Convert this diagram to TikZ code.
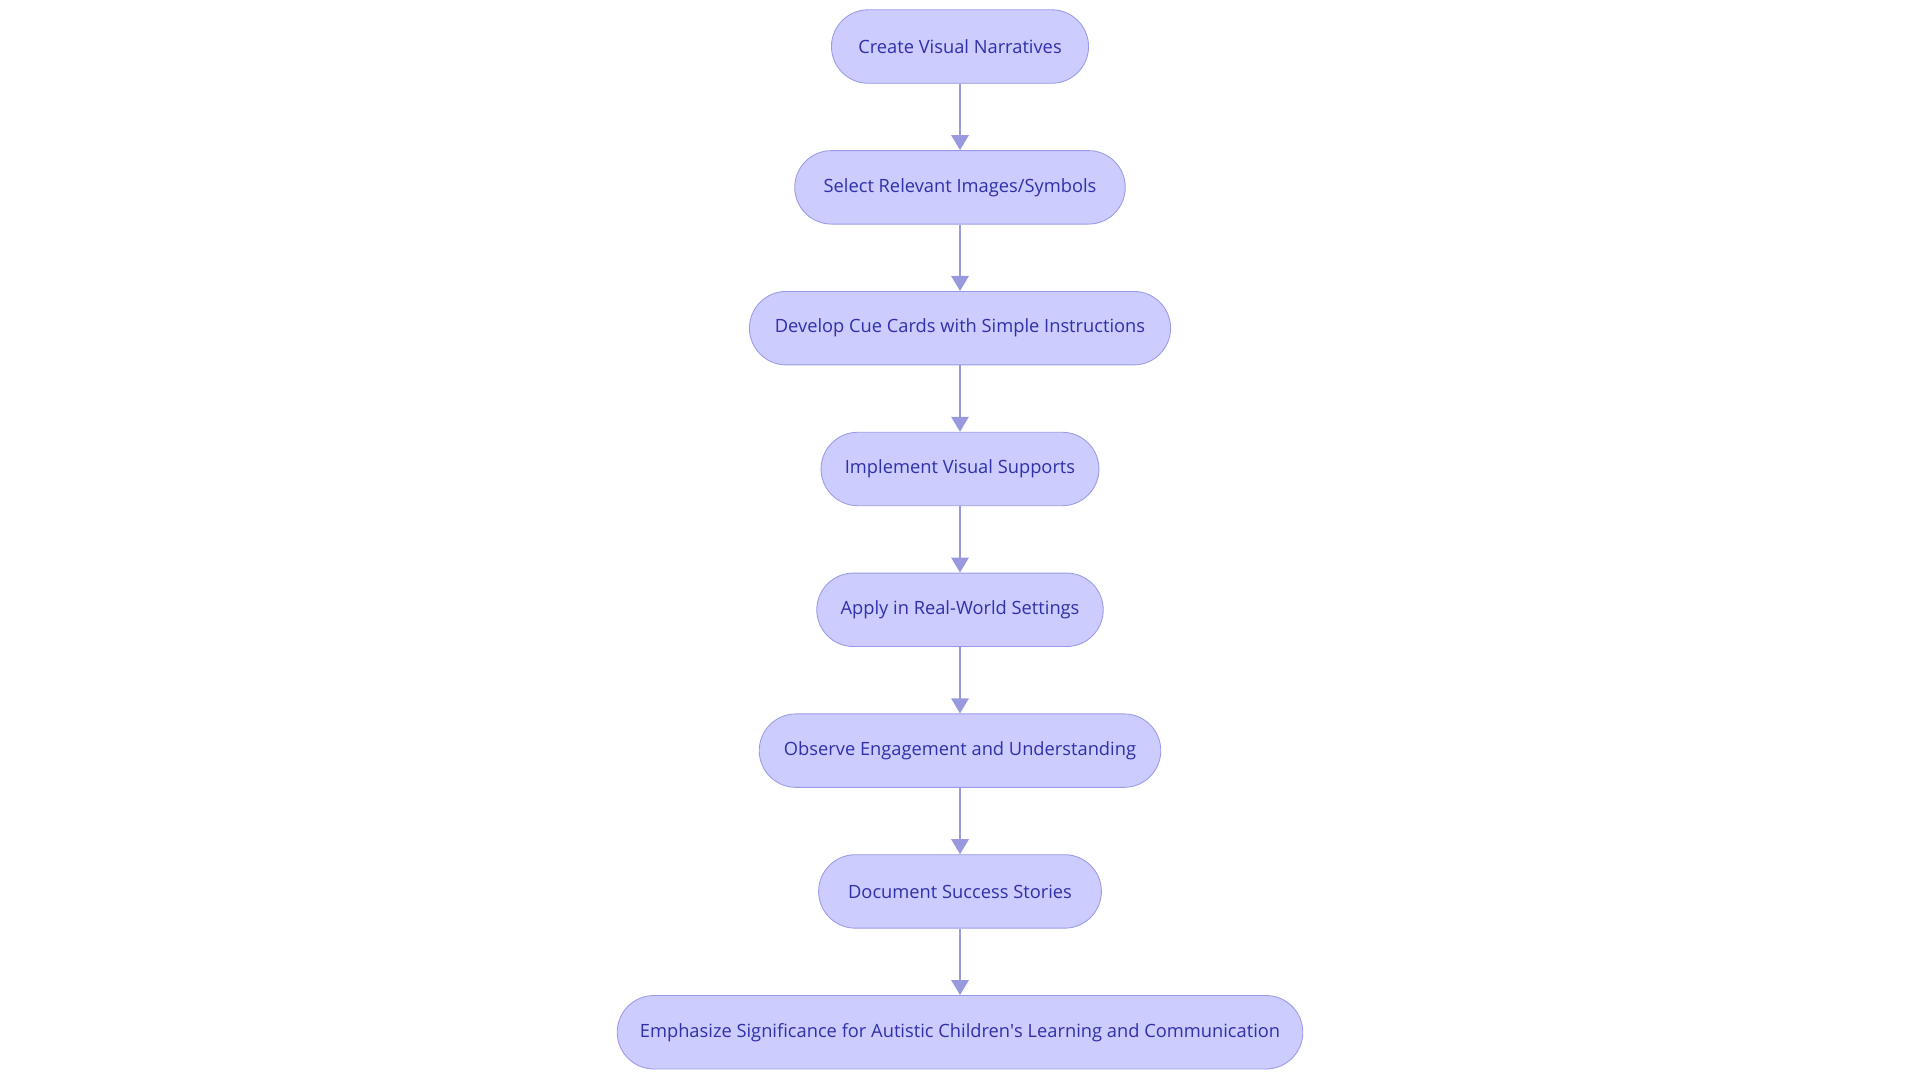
\documentclass[tikz,border=0pt]{standalone}
\usepackage{fontspec}
\setmainfont[Ligatures=NoCommon]{Open Sans}
\newfontfamily\plainfont{Open Sans}
\usetikzlibrary{arrows.meta}
\definecolor{boxfill}{HTML}{CCCCFF}
\definecolor{boxline}{HTML}{9A9AE6}
\definecolor{txt}{HTML}{3030A8}
\definecolor{arr}{HTML}{9999E0}
\begin{document}
\begin{tikzpicture}[x=0.02cm,y=-0.02cm,
  stepbox/.style={draw=boxline,fill=boxfill,rounded corners=0.6cm,minimum height=1.2cm,text=txt,font=\fontsize{8.5}{10}\selectfont,inner sep=0pt},
  link/.style={draw=arr,line width=1.2pt,-{Triangle[length=7pt,width=8pt]}}]
\useasboundingbox (0,0) rectangle (1568,882);
\node[stepbox,minimum width=4.2cm] (n1) at (784,38) {Create Visual Narratives};
\node[stepbox,minimum width=5.4cm] (n2) at (784,153) {Select Relevant Images/Symbols};
\node[stepbox,minimum width=6.88cm] (n3) at (784,268) {Develop Cue Cards with Simple Instructions};
\node[stepbox,minimum width=4.54cm] (n4) at (784,383) {Implement Visual Supports};
\node[stepbox,minimum width=4.68cm] (n5) at (784,498) {Apply in Real-World Settings};
\node[stepbox,minimum width=6.56cm] (n6) at (784,613) {Observe Engagement and Understanding};
\node[stepbox,minimum width=4.62cm] (n7) at (784,728) {Document Success Stories};
\node[stepbox,minimum width=11.2cm] (n8) at (784,843) {Emphasize Significance for Autistic Children\textquotesingle s Learning and Communication};
\foreach \a/\b in {n1/n2,n2/n3,n3/n4,n4/n5,n5/n6,n6/n7,n7/n8}
  \draw[link] (\a) -- (\b);
\end{tikzpicture}
\end{document}
